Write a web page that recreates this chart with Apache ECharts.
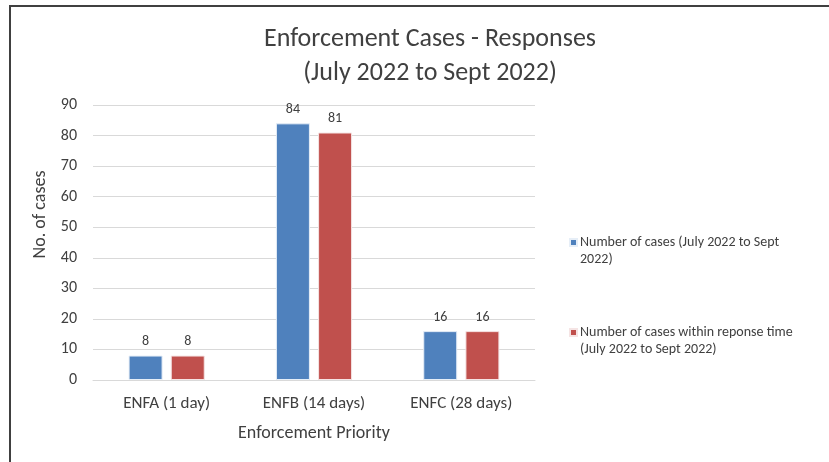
<!DOCTYPE html>
<html>
<head>
<meta charset="utf-8">
<script src="https://cdn.jsdelivr.net/npm/echarts@6/dist/echarts.min.js"></script>
<style>
	html, body { margin: 0; padding: 0; background: #fff; }
	#chart { width: 829px; height: 462px; }
</style>
</head>
<body>
<div id="chart"></div>
<script>
const categories = ["ENFA (1 day)", "ENFB (14 days)", "ENFC (28 days)"];
const totalCases = [8, 84, 16];
const withinTime = [8, 81, 16];
const seriesNames = [
	"Number of cases (July 2022 to Sept 2022)",
	"Number of cases within reponse time (July 2022 to Sept 2022)",
];
// legend text wraps like the original; leading blank line keeps the square level with line 1
const legendLines = {
	"Number of cases (July 2022 to Sept 2022)": " \nNumber of cases (July 2022 to Sept\n2022)",
	"Number of cases within reponse time (July 2022 to Sept 2022)": " \nNumber of cases within reponse time\n(July 2022 to Sept 2022)",
};

const font = "Carlito, 'Liberation Sans Narrow', Lato, sans-serif";
const chart = echarts.init(document.getElementById("chart"));

const option = {
	backgroundColor: "#fff",
	animation: false,
	textStyle: { fontFamily: font },
	graphic: [
		{
			type: "polyline",
			shape: { points: [[10, 462], [10, 6], [829, 6]] },
			style: { stroke: "#404040", lineWidth: 2, fill: null },
		},
	],
	title: {
		text: "Enforcement Cases - Responses\n(July 2022 to Sept 2022)",
		left: 425,
		textAlign: "center",
		top: 17,
		textStyle: {
			fontFamily: font,
			fontSize: 26,
			fontWeight: "normal",
			color: "#404040",
			lineHeight: 34,
		},
	},
	legend: {
		orient: "vertical",
		left: 564,
		top: 212,
		itemWidth: 7,
		itemHeight: 7,
		itemGap: 39,
		icon: "rect",
		formatter: (name) => legendLines[name],
		textStyle: { fontFamily: font, fontSize: 14, color: "#404040", lineHeight: 17, padding: [0, 0, 0, -2] },
		data: seriesNames,
	},
	grid: { left: 93, right: 294, top: 105, bottom: 82 },
	xAxis: {
		type: "category",
		data: categories,
		name: "Enforcement Priority",
		nameLocation: "middle",
		nameGap: 44,
		nameTextStyle: { fontFamily: font, fontSize: 18, color: "#404040" },
		axisLine: { lineStyle: { color: "#d9d9d9" } },
		axisTick: { show: false },
		axisLabel: { fontFamily: font, fontSize: 17, color: "#404040", margin: 15 },
	},
	yAxis: {
		type: "value",
		min: 0,
		max: 90,
		interval: 10,
		name: "No. of cases",
		nameLocation: "middle",
		nameGap: 40,
		nameTextStyle: { fontFamily: font, fontSize: 18, color: "#404040", padding: [0, 0, 0, 56] },
		axisLine: { show: false },
		axisTick: { show: false },
		axisLabel: { fontFamily: font, fontSize: 16, color: "#404040", margin: 16 },
		splitLine: { lineStyle: { color: "#d9d9d9" } },
	},
	series: [
		{
			name: seriesNames[0],
			type: "bar",
			data: totalCases,
			barWidth: 34,
			barGap: "24%",
			itemStyle: { color: "#4f81bd", borderColor: "#e6eef7", borderWidth: 1 },
			label: { show: true, position: "top", distance: 7, fontFamily: font, fontSize: 14, color: "#404040" },
		},
		{
			name: seriesNames[1],
			type: "bar",
			data: withinTime,
			barWidth: 34,
			barGap: "24%",
			itemStyle: { color: "#c0504d", borderColor: "#f5e4e4", borderWidth: 1 },
			label: { show: true, position: "top", distance: 7, fontFamily: font, fontSize: 14, color: "#404040" },
		},
	],
};

chart.setOption(option);
</script>
</body>
</html>
